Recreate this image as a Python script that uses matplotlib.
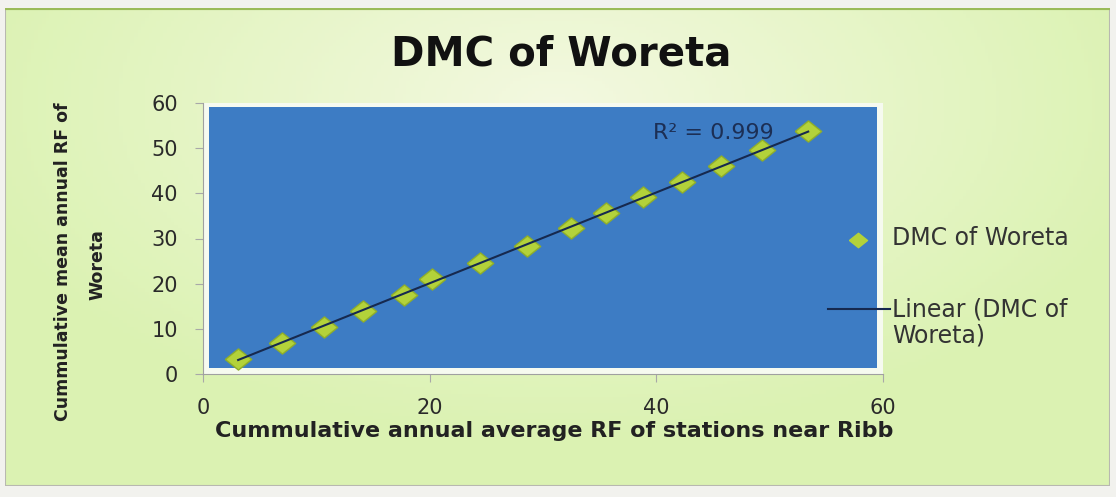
import numpy as np
import matplotlib.pyplot as plt
import matplotlib as mpl
from matplotlib.patches import Rectangle
from matplotlib.lines import Line2D

mpl.rcParams.update({
    "font.family": ["DejaVu Sans"],
})

# cumulative rainfall: stations near Ribb (x) vs. Woreta (y)
cum_ribb = [3.1, 7.0, 10.7, 14.1, 17.7, 20.2, 24.4, 28.6, 32.5, 35.6, 38.8, 42.3, 45.7, 49.3, 53.4]
cum_woreta = [3.4, 6.9, 10.5, 14.0, 17.6, 21.1, 24.5, 28.4, 32.4, 35.6, 39.1, 42.6, 46.0, 49.6, 53.7]
x_ticks = [0, 20, 40, 60]
y_ticks = [0, 10, 20, 30, 40, 50, 60]

W, H = 1116, 497
fig = plt.figure(figsize=(W / 100, H / 100), dpi=100)
fig.patch.set_facecolor("#f2f2ee")

# soft green panel behind everything
bg = fig.add_axes([5 / W, 1 - 486 / H, 1105 / W, 478 / H], zorder=0)
gx, gy = np.meshgrid(np.linspace(-1, 1, 300), np.linspace(-1, 1, 150))
r = np.clip(np.sqrt((gx / 1.1) ** 2 + ((gy + 0.6) / 1.4) ** 2), 0, 1)
c0 = np.array([0.955, 0.975, 0.88])
c1 = np.array([0.86, 0.95, 0.70])
img = c0[None, None, :] * (1 - r[..., None]) + c1[None, None, :] * r[..., None]
bg.imshow(img, aspect="auto", extent=[0, 1, 0, 1], origin="upper")
bg.set_xlim(0, 1)
bg.set_ylim(0, 1)
bg.axis("off")
bg.add_patch(Rectangle((0, 0), 1, 1, fill=False, edgecolor="#b8b8b0", lw=1.5))
bg.plot([0, 1], [1, 1], color="#9bbb59", lw=3)

ax = fig.add_axes([203 / W, 1 - 374 / H, 680 / W, 271 / H], zorder=2)
ax.set_facecolor("#f6faf0")
ax.add_patch(Rectangle((0.009, 0.022), 0.982, 0.963, transform=ax.transAxes,
                       facecolor="#3d7cc4", edgecolor="none", zorder=0))

x = np.array(cum_ribb)
y = np.array(cum_woreta)
slope, icpt = np.polyfit(x, y, 1)
xs = np.array([x.min(), x.max()])
ax.plot(xs, slope * xs + icpt, color="#16294f", lw=1.5, zorder=3)

diamond = [(-1, 0), (0, 0.8), (1, 0), (0, -0.8), (-1, 0)]
ax.plot(x, y, linestyle="none", marker=diamond, markersize=19,
        markerfacecolor="#b3d23a", markeredgecolor="#8fae2a", markeredgewidth=1.0,
        zorder=2)

ax.text(39.7, 53.3, "R² = 0.999", color="#1c2f55", fontsize=16, ha="left", va="center", zorder=4)

ax.set_xlim(0, 60)
ax.set_ylim(0, 60)
ax.set_xticks(x_ticks)
ax.set_yticks(y_ticks)
ax.tick_params(labelsize=15, length=6, color="#a8a8a8", labelcolor="#2a2a2a")
ax.tick_params(axis="y", pad=12)
ax.tick_params(axis="x", pad=11)
for s in ("top", "right"):
    ax.spines[s].set_visible(False)
for s in ("left", "bottom"):
    ax.spines[s].set_color("#a0a0a0")

fig.text(561 / W, 1 - 54 / H, "DMC of Woreta", fontsize=29, fontweight="bold",
         ha="center", va="center", color="#111111")
fig.text(554 / W, 1 - 431 / H, "Cummulative annual average RF of stations near Ribb",
         fontsize=16, fontweight="bold", ha="center", va="center", color="#222222")
fig.text(63 / W, 1 - 262 / H, "Cummulative mean annual RF of",
         fontsize=12.5, fontweight="bold", rotation=90, ha="center", va="center",
         color="#222222")
fig.text(97 / W, 1 - 265 / H, "Woreta",
         fontsize=12.5, fontweight="bold", rotation=90, ha="center", va="center",
         color="#222222")

# legend keys, drawn outside the plot area
fig.add_artist(Line2D([858 / W], [1 - 240 / H], marker=diamond, markersize=13,
                      markerfacecolor="#b3d23a", markeredgecolor="#b3d23a", zorder=5))
fig.text(892 / W, 1 - 238 / H, "DMC of Woreta", fontsize=17, va="center", color="#333333")
fig.add_artist(Line2D([828 / W, 890 / W], [1 - 309 / H, 1 - 309 / H], color="#16294f",
                      lw=1.5, zorder=5))
fig.text(892 / W, 1 - 309 / H, "Linear (DMC of", fontsize=17, va="center", color="#333333")
fig.text(892 / W, 1 - 336 / H, "Woreta)", fontsize=17, va="center", color="#333333")

fig.savefig("out.png", dpi=100)
